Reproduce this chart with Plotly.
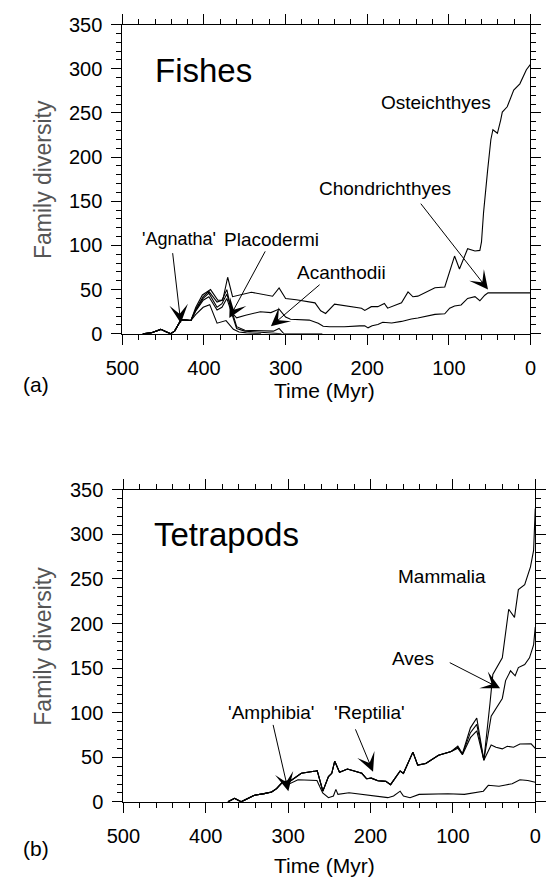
import plotly.graph_objects as go

W, H = 547, 886
FONT = "Liberation Sans"

# ---------------- Fishes (cumulative curves, time in Myr before present) ----------------
fish_early_t = [475, 465, 453, 445, 441, 436, 428, 416]
fish_early_v = [0, 1, 5, 2, 0, 3, 16, 15]

agnatha_t = [410, 401, 393, 384, 373, 364, 357, 348, 330]
agnatha_v = [22, 30, 33, 12, 15, 5, 2, 1, 0]

placodermi_t = [410, 401, 394, 384, 378, 372, 366, 360, 350, 330, 310, 305]
placodermi_v = [26, 38, 42, 27, 30, 40, 22, 6, 3, 2, 1, 0]

acanthodii_t = [410, 401, 394, 384, 378, 372, 366, 360, 350, 330, 315, 308, 302, 290, 255]
acanthodii_v = [27, 40, 46, 30, 34, 45, 26, 8, 4, 3, 3, 6, 0, 0, 0]

chondrichthyes_t = [410, 401, 394, 384, 378, 372, 366, 360, 349, 331, 318, 308, 300, 294,
                    287, 271, 260, 254, 246, 228, 209, 203, 199, 194, 187, 181, 170, 158,
                    146, 138, 117, 105, 99, 93, 85, 77, 68, 62, 56, 52, 0]
chondrichthyes_v = [28, 42, 48, 36, 38, 50, 24, 18, 21, 25, 24, 28, 19, 16.5,
                    16, 15.5, 12, 8.5, 8, 8, 9, 9, 6.7, 9, 10.4, 13, 12.2, 14,
                    16.7, 17.8, 22, 22.6, 28.9, 31.5, 32.6, 40, 42, 37.4, 43.7, 46.3, 46.3]

osteichthyes_t = [410, 402, 392, 383, 377, 371, 365, 342, 316, 308, 300, 287, 271, 264,
                  257, 251, 240, 207, 203, 195, 187, 179, 175, 158, 150, 144, 138, 117,
                  105, 93, 87, 77, 68, 62, 60, 57.5, 52.5, 48.5, 46, 40.5, 36.5, 34.5,
                  28.5, 24.5, 20.5, 13, 5, 0]
osteichthyes_v = [30, 44, 50, 38, 38, 64, 42, 47, 42.5, 52, 40, 38.6, 35.5, 35,
                  26, 23, 33.5, 29, 26.5, 30.7, 30.7, 34.4, 29, 35.2, 47.4, 41.9, 42.6, 52.2,
                  53, 88, 73.3, 96.3, 93.7, 94.4, 104, 137, 185, 220, 231, 227, 242, 251,
                  257, 266, 276, 283, 299, 305]

# ---------------- Tetrapods (cumulative curves) ----------------
tet_early_t = [373, 365, 357, 341, 329, 320, 314, 306]
tet_early_v = [0, 4, 0, 7.4, 9.2, 11, 14.8, 22.9]

amphibia_t = [300, 288, 265, 258, 251, 245, 242, 239.5, 226, 210.5, 199, 191, 179, 172,
              164, 160, 152, 141, 106, 86, 63, 57, 44, 36, 28, 18.6, 9, 0]
amphibia_v = [19.5, 24.8, 24, 10, 4.7, 6.6, 14, 8.4, 10.2, 8.4, 6.6, 5.5, 4.7, 6.6,
              12, 6.6, 4.7, 8.4, 9.1, 8.4, 12, 18.6, 17.5, 19, 20.4, 24.8, 24, 22]

shared_t = [298, 284, 266.6, 264.7, 257.8, 251, 247, 243.4, 237.6, 228, 210.5, 204.7, 199,
            191, 181.4, 175.6, 164, 160, 148.5, 142.7, 132.9, 117.4, 102]
shared_v = [23, 32, 34.6, 35, 12, 28.4, 32, 45.6, 33.2, 36.8, 32, 25.9, 26.6,
            23.7, 23, 19.3, 34.6, 32, 55.8, 41.2, 43, 52.2, 56.5]

reptilia_t = [94, 88.4, 78.7, 71, 62.4, 53.5, 47.7, 40, 34, 26.4, 18.6, 5, 0]
reptilia_v = [60.2, 52.8, 72, 79.5, 46.7, 63.8, 61.3, 59.4, 62.3, 61.3, 64.9, 65, 60]

aves_t = [94, 88.4, 78.7, 71, 62.4, 53.5, 47, 40, 36, 30, 24.4, 20.5, 12.8, 7, 2, 0]
aves_v = [61.5, 53.5, 77.6, 87, 46.7, 96, 105, 116, 136, 147, 141.4, 150.6, 154, 161.5, 176, 196]

mammalia_t = [94, 88.4, 78.7, 71, 62.4, 55, 51.5, 40, 35, 32.2, 25.2, 20.5, 12.8, 5.8, 2, 0.5, 0]
mammalia_v = [62.5, 54, 83, 94, 46.7, 110, 143, 161.5, 194, 216, 207, 238, 243.6, 263.6, 282, 329, 329]

# ---------------- Labels ----------------
x_ticks = [500, 400, 300, 200, 100, 0]
y_ticks = [0, 50, 100, 150, 200, 250, 300, 350]


def px_x(p):
    return p / W


def px_y(p):
    return 1 - p / H


fig = go.Figure()


def add_line(t, v, xa, ya):
    fig.add_trace(go.Scatter(x=t, y=v, mode="lines", xaxis=xa, yaxis=ya,
                             line=dict(color="black", width=1.1), showlegend=False,
                             hoverinfo="skip"))


fish_series = [(agnatha_t, agnatha_v), (placodermi_t, placodermi_v),
               (acanthodii_t, acanthodii_v), (chondrichthyes_t, chondrichthyes_v),
               (osteichthyes_t, osteichthyes_v)]
for t, v in fish_series:
    add_line(fish_early_t + t, fish_early_v + v, "x", "y")

add_line(tet_early_t + amphibia_t, tet_early_v + amphibia_v, "x2", "y2")
for t, v in [(reptilia_t, reptilia_v), (aves_t, aves_v), (mammalia_t, mammalia_v)]:
    add_line(tet_early_t + shared_t + t, tet_early_v + shared_v + v, "x2", "y2")

# empty traces so that the mirrored (top / right) tick axes are drawn
for xa_name, ya_name in [("x3", "y3"), ("x4", "y4")]:
    fig.add_trace(go.Scatter(x=[None], y=[None], mode="lines", xaxis=xa_name, yaxis=ya_name,
                             showlegend=False, hoverinfo="skip"))

axis_common = dict(showline=True, linecolor="black", linewidth=1, mirror=True,
                   ticks="outside", ticklen=10, tickwidth=1, tickcolor="black",
                   showgrid=False, zeroline=False,
                   tickfont=dict(family=FONT, size=20, color="black"))

x_minor = dict(dtick=20, ticks="outside", ticklen=5, tickcolor="black", showgrid=False)
y_minor = dict(dtick=10, ticks="outside", ticklen=5, tickcolor="black", showgrid=False)

xa = dict(axis_common, range=[500, 0], tickvals=x_ticks, ticklabelstandoff=6, minor=x_minor)
ya = dict(axis_common, range=[0, 350], tickvals=y_ticks, ticklabelstandoff=5, minor=y_minor)

mirror_x = dict(range=[500, 0], tickvals=x_ticks, ticks="outside", ticklen=10, tickwidth=1,
                tickcolor="black", showticklabels=False, showgrid=False, zeroline=False,
                showline=False, side="top", minor=x_minor)
mirror_y = dict(range=[0, 350], tickvals=y_ticks, ticks="outside", ticklen=10, tickwidth=1,
                tickcolor="black", showticklabels=False, showgrid=False, zeroline=False,
                showline=False, side="right", minor=y_minor)

top_xd = [px_x(110), px_x(536)]
top_yd = [px_y(331), px_y(14)]
bot_xd = [px_x(111), px_x(541)]
bot_yd = [px_y(811), px_y(491)]

fig.update_layout(
    width=W, height=H, margin=dict(l=0, r=0, t=0, b=0),
    paper_bgcolor="white", plot_bgcolor="white",
    xaxis=dict(xa, domain=top_xd, anchor="y"),
    yaxis=dict(ya, domain=top_yd, anchor="x"),
    xaxis2=dict(xa, domain=bot_xd, anchor="y2"),
    yaxis2=dict(ya, domain=bot_yd, anchor="x2"),
    xaxis3=dict(mirror_x, domain=top_xd, anchor="y", overlaying="x"),
    yaxis3=dict(mirror_y, domain=top_yd, anchor="x", overlaying="y"),
    xaxis4=dict(mirror_x, domain=bot_xd, anchor="y2", overlaying="x2"),
    yaxis4=dict(mirror_y, domain=bot_yd, anchor="x2", overlaying="y2"),
)

ann = []


def text(xr, yr, x, y, s, size=19, xanchor="center"):
    ann.append(dict(x=x, y=y, xref=xr, yref=yr, text=s, showarrow=False, xanchor=xanchor,
                    yanchor="middle", font=dict(family=FONT, size=size, color="black")))


def arrow(xr, yr, x0, y0, x1, y1):
    ann.append(dict(x=x1, y=y1, ax=x0, ay=y0, xref=xr, yref=yr, axref=xr, ayref=yr,
                    text="", showarrow=True, arrowhead=3, arrowsize=3.1, arrowwidth=1,
                    arrowcolor="black", standoff=0))


# Fishes annotations
text("x", "y", 463, 298, "Fishes", size=33, xanchor="left")
text("x", "y", 431, 107, "'Agnatha'", size=18)
arrow("x", "y", 438.6, 93, 428.4, 12)
text("x", "y", 316.8, 107, "Placodermi")
arrow("x", "y", 324, 95, 369, 18)
text("x", "y", 231, 69.6, "Acanthodii")
arrow("x", "y", 256.5, 57, 318, 8.5)
text("x", "y", 178.8, 165, "Chondrichthyes")
arrow("x", "y", 135.8, 149, 52, 50)
text("x", "y", 115.4, 261.4, "Osteichthyes")

# Tetrapods annotations
text("x2", "y2", 464.7, 300, "Tetrapods", size=33, xanchor="left")
text("x2", "y2", 320.6, 100, "'Amphibia'")
arrow("x2", "y2", 318.6, 88, 299.7, 12)
text("x2", "y2", 201, 100, "'Reptilia'")
arrow("x2", "y2", 219, 83, 196.9, 33.9)
text("x2", "y2", 148, 160.5, "Aves")
arrow("x2", "y2", 105.6, 157, 42.7, 127.3)
text("x2", "y2", 113.7, 253.3, "Mammalia")

# Axis titles and panel labels
for yc, tc in [(172.5, 389), (651, 876)]:
    ann.append(dict(x=px_x(27), y=px_y(yc), xref="paper", yref="paper", text="Family diversity",
                    textangle=-90, showarrow=False, xanchor="center", yanchor="middle",
                    font=dict(family=FONT, size=23, color="#555555")))
    ann.append(dict(x=px_x(321), y=px_y(tc), xref="paper", yref="paper", text="Time (Myr)",
                    showarrow=False, xanchor="center", yanchor="middle",
                    font=dict(family=FONT, size=21, color="black")))
ann.append(dict(x=px_x(20), y=px_y(383), xref="paper", yref="paper", text="(a)", showarrow=False,
                xanchor="center", yanchor="middle", font=dict(family=FONT, size=21, color="black")))
ann.append(dict(x=px_x(20), y=px_y(859), xref="paper", yref="paper", text="(b)", showarrow=False,
                xanchor="center", yanchor="middle", font=dict(family=FONT, size=21, color="black")))

fig.update_layout(annotations=ann)
fig.write_html(
    "out.html",
    config={"displayModeBar": False, "staticPlot": True},
    post_script="document.body.style.margin='0';document.body.style.padding='0';"
                "document.documentElement.style.overflow='hidden';"
                "document.body.style.overflow='hidden';",
)
